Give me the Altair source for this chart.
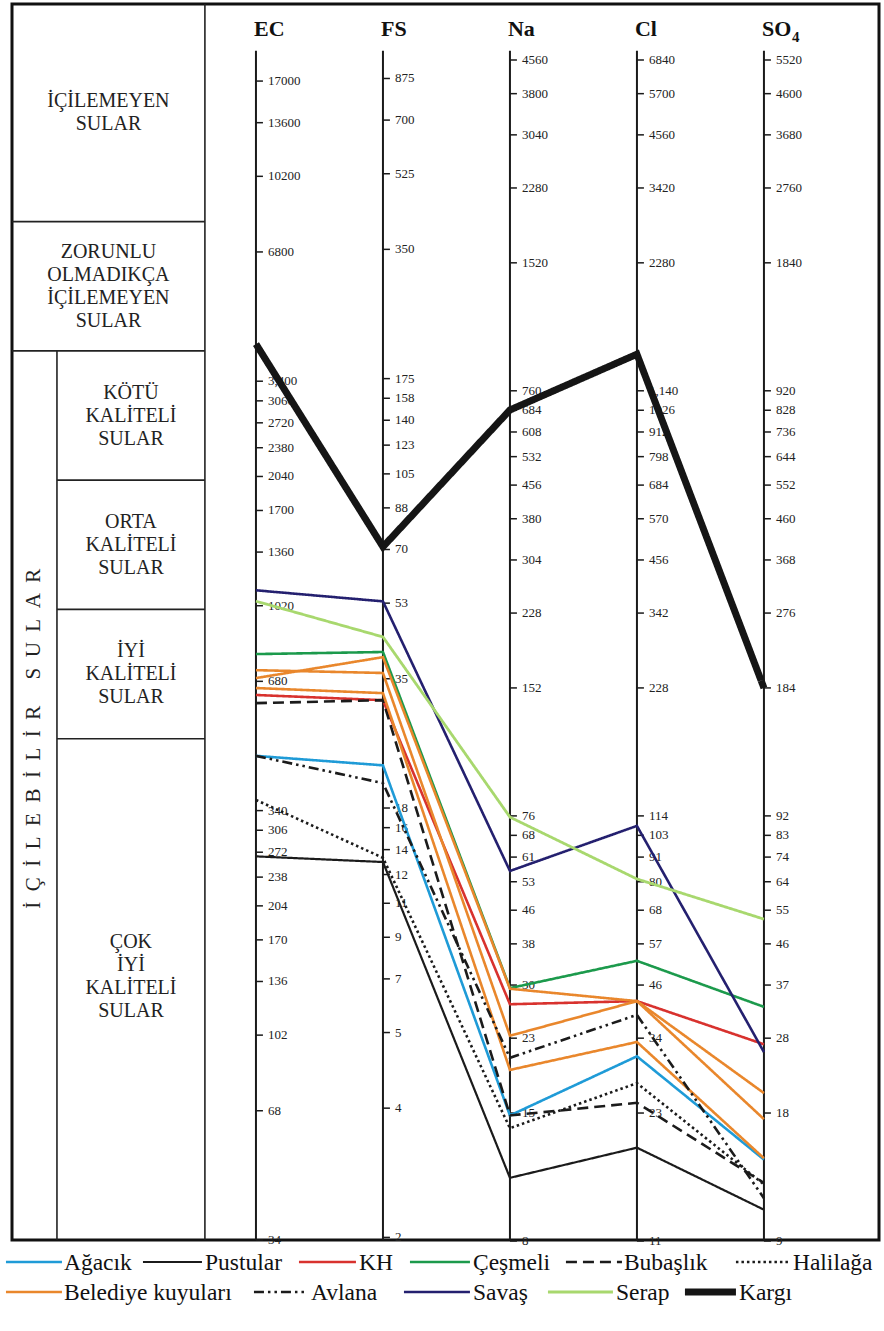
import altair as alt
import numpy as np
import pandas as pd

FONT = "Liberation Serif"

# ---------------------------------------------------------------------------
# Columns of the diagram (left to right)
PARAMS = ["EC", "FS", "Na", "Cl", "SO4"]

# Tick values of every column and the labels printed beside them
EC_TICKS = [34, 68, 102, 136, 170, 204, 238, 272, 306, 340, 680, 1020, 1360,
            1700, 2040, 2380, 2720, 3060, 3400, 6800, 10200, 13600, 17000]
EC_LABELS = ["34", "68", "102", "136", "170", "204", "238", "272", "306", "340",
             "680", "1020", "1360", "1700", "2040", "2380", "2720", "3060",
             "3,400", "6800", "10200", "13600", "17000"]

FS_TICKS = [1.75, 3.5, 5.25, 7, 8.75, 10.5, 12.25, 14, 15.75, 17.5, 35, 52.5, 70,
            87.5, 105, 122.5, 140, 157.5, 175, 350, 525, 700, 875]
FS_LABELS = ["2", "4", "5", "7", "9", "11", "12", "14", "16", "18", "35", "53",
             "70", "88", "105", "123", "140", "158", "175", "350", "525", "700", "875"]

NA_TICKS = [7.6, 15.2, 22.8, 30.4, 38, 45.6, 53.2, 60.8, 68.4, 76, 152, 228, 304,
            380, 456, 532, 608, 684, 760, 1520, 2280, 3040, 3800, 4560]
NA_LABELS = ["8", "15", "23", "30", "38", "46", "53", "61", "68", "76", "152",
             "228", "304", "380", "456", "532", "608", "684", "760", "1520",
             "2280", "3040", "3800", "4560"]

CL_TICKS = [11.4, 22.8, 34.2, 45.6, 57, 68.4, 79.8, 91.2, 102.6, 114, 228, 342,
            456, 570, 684, 798, 912, 1026, 1140, 2280, 3420, 4560, 5700, 6840]
CL_LABELS = ["11", "23", "34", "46", "57", "68", "80", "91", "103", "114", "228",
             "342", "456", "570", "684", "798", "912", "1026", "1,140", "2280",
             "3420", "4560", "5700", "6840"]

SO4_TICKS = [9.2, 18.4, 27.6, 36.8, 46, 55.2, 64.4, 73.6, 82.8, 92, 184, 276, 368,
             460, 552, 644, 736, 828, 920, 1840, 2760, 3680, 4600, 5520]
SO4_LABELS = ["9", "18", "28", "37", "46", "55", "64", "74", "83", "92", "184",
              "276", "368", "460", "552", "644", "736", "828", "920", "1840",
              "2760", "3680", "4600", "5520"]

TICKS = {"EC": (EC_TICKS, EC_LABELS), "FS": (FS_TICKS, FS_LABELS),
         "Na": (NA_TICKS, NA_LABELS), "Cl": (CL_TICKS, CL_LABELS),
         "SO4": (SO4_TICKS, SO4_LABELS)}

# Water classes of the left-hand table, bounded by EC limits (µS/cm)
CLASS_LIMITS = [500, 1000, 2000, 4000, 8000]
CLASS_NAMES = [
    ["ÇOK", "İYİ", "KALİTELİ", "SULAR"],
    ["İYİ", "KALİTELİ", "SULAR"],
    ["ORTA", "KALİTELİ", "SULAR"],
    ["KÖTÜ", "KALİTELİ", "SULAR"],
    ["ZORUNLU", "OLMADIKÇA", "İÇİLEMEYEN", "SULAR"],
    ["İÇİLEMEYEN", "SULAR"],
]
DRINKABLE = "İÇİLEBİLİR SULAR"

# ---------------------------------------------------------------------------
# Samples
WELLS = ["Ağacık", "Pustular", "KH", "Çeşmeli", "Bubaşlık", "Halilağa",
         "Belediye kuyuları 1", "Belediye kuyuları 2", "Belediye kuyuları 3",
         "Avlana", "Savaş", "Serap", "Kargı"]
GROUPS = ["Ağacık", "Pustular", "KH", "Çeşmeli", "Bubaşlık", "Halilağa",
          "Belediye kuyuları", "Belediye kuyuları", "Belediye kuyuları",
          "Avlana", "Savaş", "Serap", "Kargı"]
EC = [456, 266, 632, 787, 605, 360, 692, 722, 656, 456, 1108, 1045, 4150]
FS = [22.0, 13.1, 31.2, 40.4, 31.2, 13.4, 39.3, 36.1, 32.4, 20.0, 53.0, 43.8, 71.0]
NA = [15.0, 10.7, 27.4, 29.9, 15.0, 14.0, 29.8, 23.1, 19.2, 20.5, 56.4, 75.5, 685]
CL = [31.0, 18.9, 41.8, 52.0, 24.1, 26.8, 41.8, 41.8, 33.5, 38.8, 108, 81.0, 1390]
SO4 = [14.3, 10.9, 26.7, 32.7, 12.6, 12.5, 20.5, 17.8, 14.4, 11.6, 25.6, 52.6, 184]
VALUES = {"EC": EC, "FS": FS, "Na": NA, "Cl": CL, "SO4": SO4}

LEGEND_ROW1 = ["Ağacık", "Pustular", "KH", "Çeşmeli", "Bubaşlık", "Halilağa"]
LEGEND_ROW2 = ["Belediye kuyuları", "Avlana", "Savaş", "Serap", "Kargı"]

# ---------------------------------------------------------------------------
# Line styles per sample group: colour, dash pattern, stroke width
STYLE_GROUPS = LEGEND_ROW1 + LEGEND_ROW2
STYLE = {
    "Ağacık": ("#1f9bd7", [1, 0], 2.6),
    "Pustular": ("#1b1b1b", [1, 0], 2.2),
    "KH": ("#d8322e", [1, 0], 2.6),
    "Çeşmeli": ("#1c9a4c", [1, 0], 2.6),
    "Bubaşlık": ("#1b1b1b", [11, 6], 2.6),
    "Halilağa": ("#1b1b1b", [2.5, 3], 2.6),
    "Belediye kuyuları": ("#e9872c", [1, 0], 2.6),
    "Avlana": ("#1b1b1b", [10, 4, 2.5, 4, 2.5, 4], 2.6),
    "Savaş": ("#24206f", [1, 0], 2.6),
    "Serap": ("#a8d86e", [1, 0], 2.8),
    "Kargı": ("#151515", [1, 0], 7.0),
}
COLOR = alt.Scale(domain=STYLE_GROUPS, range=[STYLE[g][0] for g in STYLE_GROUPS])
DASH = alt.Scale(domain=STYLE_GROUPS, range=[STYLE[g][1] for g in STYLE_GROUPS])

# ---------------------------------------------------------------------------
# Every column is logarithmic; values are placed on a shared EC-equivalent level
EC_PER_FS = 19.7
NA_EQUIV = {"Na": 1.0, "Cl": 76 / 114, "SO4": 76 / 92}


def level(param, values):
    v = np.asarray(values, dtype=float)
    if param == "EC":
        return v
    if param == "FS":
        return v * EC_PER_FS
    return 4.541 * (v * NA_EQUIV[param]) ** 0.990


# Layout (plot area = outer frame)
PLOT_W, PLOT_H = 867, 1236
X_DOMAIN = [-1.921, 4.906]          # column index units, columns at 0..4
Y_DOMAIN = [34, 25700]              # EC-equivalent, log
AXIS_TOP = 20000
TABLE_RIGHT = -0.402
TABLE_INNER = -1.567
TICK_LEN = 0.055
LINE_H = 23

XS = alt.Scale(domain=X_DOMAIN, nice=False, zero=False)
YS = alt.Scale(type="log", domain=Y_DOMAIN, nice=False)


def px_x(px):
    """page pixel -> column index units (for the legend rows)"""
    return (px - 256) / 127


# ---------------------------------------------------------------------------
# Tables
rows = []
for i, w in enumerate(WELLS):
    for j, p in enumerate(PARAMS):
        rows.append({"well": w, "group": GROUPS[i], "x": j,
                     "y": float(level(p, [VALUES[p][i]])[0]),
                     "lw": STYLE[GROUPS[i]][2]})
lines_df = pd.DataFrame(rows)

tick_rows = []
for j, p in enumerate(PARAMS):
    vals, labs = TICKS[p]
    for v, lab, y in zip(vals, labs, level(p, vals)):
        tick_rows.append({"x": j, "x2": j + TICK_LEN, "y": float(y), "label": lab})
ticks_df = pd.DataFrame(tick_rows)

axes_df = pd.DataFrame({"x": list(range(len(PARAMS))),
                        "y": [Y_DOMAIN[0]] * len(PARAMS),
                        "y2": [AXIS_TOP] * len(PARAMS)})

bounds = [Y_DOMAIN[0]] + CLASS_LIMITS + [Y_DOMAIN[1]]
grid_rows = [
    {"x": TABLE_RIGHT, "x2": TABLE_RIGHT, "y": bounds[0], "y2": bounds[-1]},
    {"x": TABLE_INNER, "x2": TABLE_INNER, "y": bounds[0], "y2": CLASS_LIMITS[3]},
]
for lim in CLASS_LIMITS:
    x0 = X_DOMAIN[0] if lim >= CLASS_LIMITS[3] else TABLE_INNER
    grid_rows.append({"x": x0, "x2": TABLE_RIGHT, "y": lim, "y2": lim})
grid_df = pd.DataFrame(grid_rows)

class_rows = []
for k, name in enumerate(CLASS_NAMES):
    lo, hi = bounds[k], bounds[k + 1]
    x0 = X_DOMAIN[0] if k >= 4 else TABLE_INNER
    class_rows.append({"x": (x0 + TABLE_RIGHT) / 2, "y": float(np.sqrt(lo * hi)),
                       "text": name, "n": len(name), "bottom": k == 0})
class_df = pd.DataFrame(class_rows)

sep = "\u00a0\u00a0"
w1, w2 = DRINKABLE.split(" ")
vertical_text = sep.join(list(w1)) + "\u00a0" * 5 + sep.join(list(w2))
vert_df = pd.DataFrame({"x": [(X_DOMAIN[0] + TABLE_INNER) / 2],
                        "y": [CLASS_LIMITS[0]], "text": [vertical_text]})

head_df = pd.DataFrame({"x": list(range(len(PARAMS))),
                        "text": ["EC", "FS", "Na", "Cl", "SO"]})

# Legend slots: (line start, line end, text start) in page pixels
LEGEND_SLOTS_1 = [(6, 62, 64), (143, 202, 205), (299, 356, 359), (410, 470, 473),
                  (566, 622, 624), (736, 790, 793)]
LEGEND_SLOTS_2 = [(6, 62, 64), (254, 308, 311), (404, 470, 473), (548, 613, 616),
                  (685, 736, 739)]


def legend_df(names, slots):
    return pd.DataFrame({"group": names,
                         "x": [px_x(s[0]) for s in slots],
                         "x2": [px_x(s[1]) for s in slots],
                         "xt": [px_x(s[2]) for s in slots],
                         "lw": [STYLE[g][2] for g in names]})


leg1, leg2 = legend_df(LEGEND_ROW1, LEGEND_SLOTS_1), legend_df(LEGEND_ROW2, LEGEND_SLOTS_2)

# ---------------------------------------------------------------------------
# Marks
X = lambda f="x": alt.X(f"{f}:Q", scale=XS, axis=None)
Y = lambda f="y": alt.Y(f"{f}:Q", scale=YS, axis=None)

grid = alt.Chart(grid_df).mark_rule(color="#222", strokeWidth=1.6).encode(
    x=X(), x2="x2:Q", y=Y(), y2="y2:Q")

axes = alt.Chart(axes_df).mark_rule(color="#1a1a1a", strokeWidth=2).encode(
    x=X(), y=Y(), y2="y2:Q")

ticks = alt.Chart(ticks_df).mark_rule(color="#1a1a1a", strokeWidth=1.5).encode(
    x=X(), x2="x2:Q", y=Y())

tick_labels = alt.Chart(ticks_df).mark_text(
    font=FONT, fontSize=13, color="#222", align="left", baseline="middle", dx=12
).encode(x=X(), y=Y(), text="label:N")

heads = alt.Chart(head_df).mark_text(
    font=FONT, fontSize=22, fontWeight="bold", color="#111", align="left",
    baseline="alphabetic", dx=-2
).encode(x=X(), y=alt.value(32), text="text:N")

sub4 = alt.Chart(pd.DataFrame({"x": [4], "text": ["4"]})).mark_text(
    font=FONT, fontSize=15, fontWeight="bold", color="#111", align="left",
    baseline="alphabetic", dx=28
).encode(x=X(), y=alt.value(38), text="text:N")


def class_layer(n, extra=0.0, bottom=False):
    # multi-line block centred on its class band
    return alt.Chart(class_df).transform_filter(
        f"datum.n == {n} && datum.bottom == {str(bottom).lower()}"
    ).mark_text(
        font=FONT, fontSize=20, color="#222", align="center", baseline="middle",
        lineHeight=LINE_H, dy=-(n - 1) * LINE_H / 2 + extra
    ).encode(x=X(), y=Y(), text="text")


class_layers = [class_layer(2), class_layer(3), class_layer(4),
                class_layer(4, extra=-13, bottom=True)]

vert = alt.Chart(vert_df).mark_text(
    font=FONT, fontSize=21, color="#222", align="center", baseline="middle",
    angle=270
).encode(x=X(), y=Y(), text="text:N")

samples = alt.Chart(lines_df).mark_line(strokeJoin="miter").encode(
    x=X(), y=Y(),
    detail="well:N",
    order="x:Q",
    color=alt.Color("group:N", scale=COLOR, legend=None),
    strokeDash=alt.StrokeDash("group:N", scale=DASH, legend=None),
    strokeWidth=alt.StrokeWidth("lw:Q", scale=None),
)


def legend_layers(df, ypx):
    glyph = alt.Chart(df).mark_rule().encode(
        x=X(), x2="x2:Q", y=alt.value(ypx),
        color=alt.Color("group:N", scale=COLOR, legend=None),
        strokeDash=alt.StrokeDash("group:N", scale=DASH, legend=None),
        strokeWidth=alt.StrokeWidth("lw:Q", scale=None),
    )
    label = alt.Chart(df).mark_text(
        font=FONT, fontSize=23.5, color="#111", align="left", baseline="middle"
    ).encode(x=X("xt"), y=alt.value(ypx + 1), text="group:N")
    return [glyph, label]


chart = alt.layer(
    grid, axes, ticks, tick_labels, heads, sub4, *class_layers, vert,
    samples, *legend_layers(leg1, 1258), *legend_layers(leg2, 1288)
).properties(
    width=PLOT_W, height=PLOT_H,
    autosize=alt.AutoSizeParams(type="none"),
    padding={"left": 12, "top": 4, "right": 5, "bottom": 91},
    background="white",
).configure_view(stroke="#111", strokeWidth=3)

chart.save("out.html", embed_options={"renderer": "svg", "actions": False})
